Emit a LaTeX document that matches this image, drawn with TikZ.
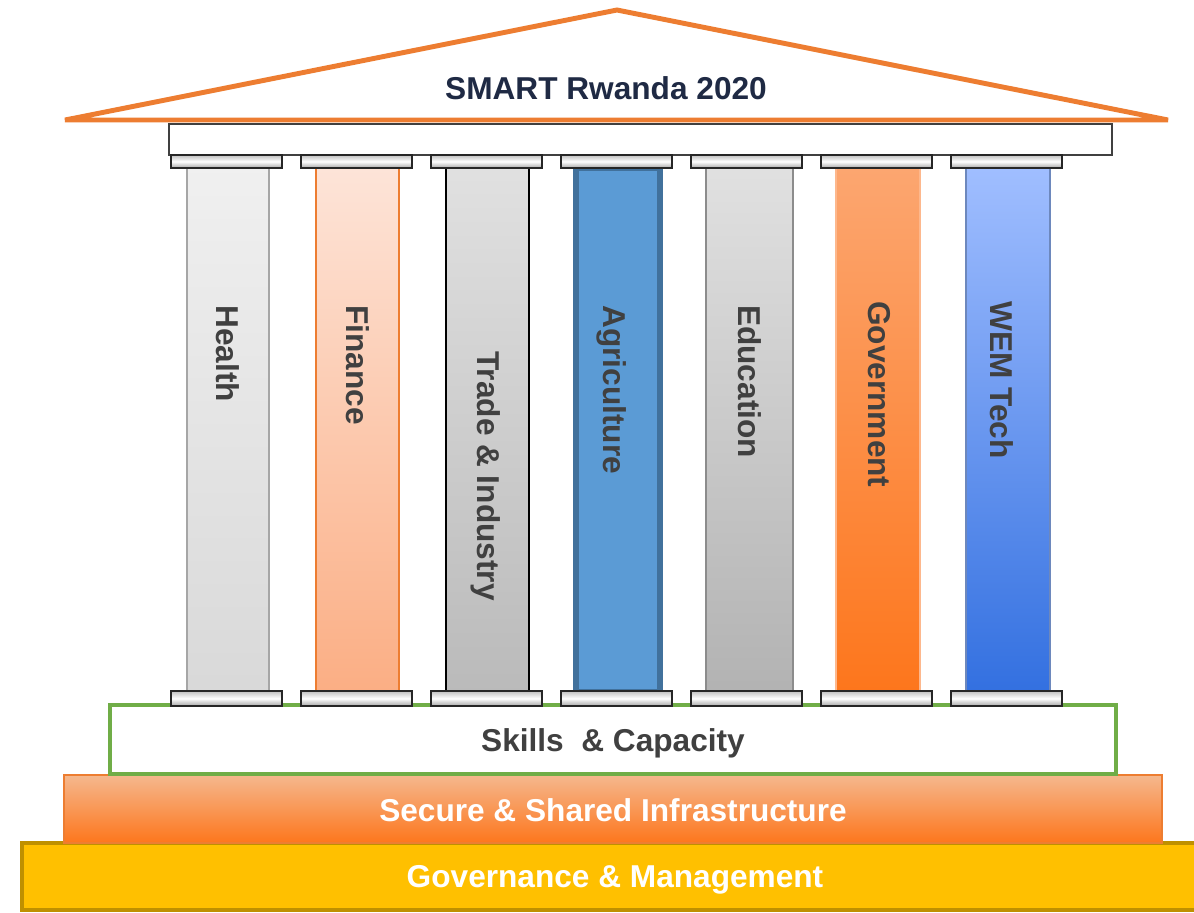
\documentclass[tikz,border=0pt]{standalone}
\usepackage{fontspec}
\setmainfont{Liberation Sans}
\definecolor{roofc}{HTML}{ED7D31}
\definecolor{navytxt}{HTML}{1F2A44}
\definecolor{greytxt}{HTML}{404040}
\definecolor{skillc}{HTML}{70AD47}
\definecolor{goldc}{HTML}{FFC000}
\definecolor{golddk}{HTML}{BF9000}
\definecolor{fintop}{HTML}{FDE4D8}
\definecolor{finbot}{HTML}{FBAE84}
\definecolor{agric}{HTML}{5B9BD5}
\definecolor{agridk}{HTML}{41719C}
\definecolor{govtop}{HTML}{FCA670}
\definecolor{govbot}{HTML}{FD761C}
\definecolor{wemtop}{HTML}{A0BEFF}
\definecolor{wembot}{HTML}{3370E0}
\definecolor{wemdk}{HTML}{2F55A0}
\tikzset{
  pillar/.style={line width=1.6},
  capital/.style={draw=black!85, line width=0.8, top color=black!25, bottom color=black!35, middle color=white},
  pillartext/.style={rotate=-90, anchor=west, text=greytxt, font=\fontsize{18}{20}\selectfont\bfseries},
  bandtext/.style={font=\fontsize{18}{20}\selectfont\bfseries}
}
\begin{document}
\begin{tikzpicture}[x=0.02cm, y=-0.02cm]
    \clip (0,0) rectangle (1194,913);
    % roof
    \draw[roofc, line width=2.8, line join=miter, fill=white] (65,120) -- (617,10) -- (1168,120) -- cycle;
    \node[bandtext, text=navytxt] (title) at (606,88) {SMART Rwanda 2020};
    \draw[black!75, line width=0.8, fill=white] (169,124) rectangle (1112,155);
    % base
    \draw[golddk, line width=2.4, fill=goldc] (22,843) rectangle (1220,910);
    \draw[roofc, line width=0.8, top color=roofc!55!white, bottom color=govbot] (64,775) rectangle (1162,843);
    \draw[skillc, line width=2.8, fill=white] (110,705) rectangle (1116,774);
    \node[bandtext, text=greytxt] (skills) at (613,743) {Skills \ \& Capacity};
    \node[bandtext, text=white] (infra) at (613,810) {Secure \& Shared Infrastructure};
    \node[bandtext, text=white] (govern) at (615,880) {Governance \& Management};
    % pillars
    \draw[pillar, draw=black!35, top color=black!6, bottom color=black!15] (187,168) rectangle (269,692);
    \draw[pillar, draw=roofc, top color=fintop, bottom color=finbot] (316,168) rectangle (399,692);
    \draw[pillar, draw=black, top color=black!12, bottom color=black!27] (446,168) rectangle (529,692);
    \draw[line width=3, draw=agridk, fill=agric] (576,168) rectangle (660,692);
    \draw[pillar, draw=black!45, top color=black!12, bottom color=black!30] (706,168) rectangle (793,692);
    \draw[pillar, draw=govtop!80!white, top color=govtop, bottom color=govbot] (836,168) rectangle (920,692);
    \draw[pillar, draw=wemdk!70, top color=wemtop, bottom color=wembot] (966,168) rectangle (1050,692);
    \node[pillartext] (health) at (228,299) {Health};
    \node[pillartext] (finance) at (358,299) {Finance};
    \node[pillartext] (trade) at (486,345) {Trade \& Industry};
    \node[pillartext] (agri) at (612,299) {Agriculture};
    \node[pillartext] (educ) at (750,299) {Education};
    \node[pillartext] (govt) at (879,295) {Government};
    \node[pillartext] (wem) at (1002,295) {WEM Tech};
    % capitals
    \draw[capital] (171,155) rectangle (282,168);  \draw[capital] (171,691) rectangle (282,706);
    \draw[capital] (301,155) rectangle (412,168);  \draw[capital] (301,691) rectangle (412,706);
    \draw[capital] (431,155) rectangle (542,168);  \draw[capital] (431,691) rectangle (542,706);
    \draw[capital] (561,155) rectangle (672,168);  \draw[capital] (561,691) rectangle (672,706);
    \draw[capital] (691,155) rectangle (802,168);  \draw[capital] (691,691) rectangle (802,706);
    \draw[capital] (821,155) rectangle (932,168);  \draw[capital] (821,691) rectangle (932,706);
    \draw[capital] (951,155) rectangle (1062,168); \draw[capital] (951,691) rectangle (1062,706);
\end{tikzpicture}
\end{document}
